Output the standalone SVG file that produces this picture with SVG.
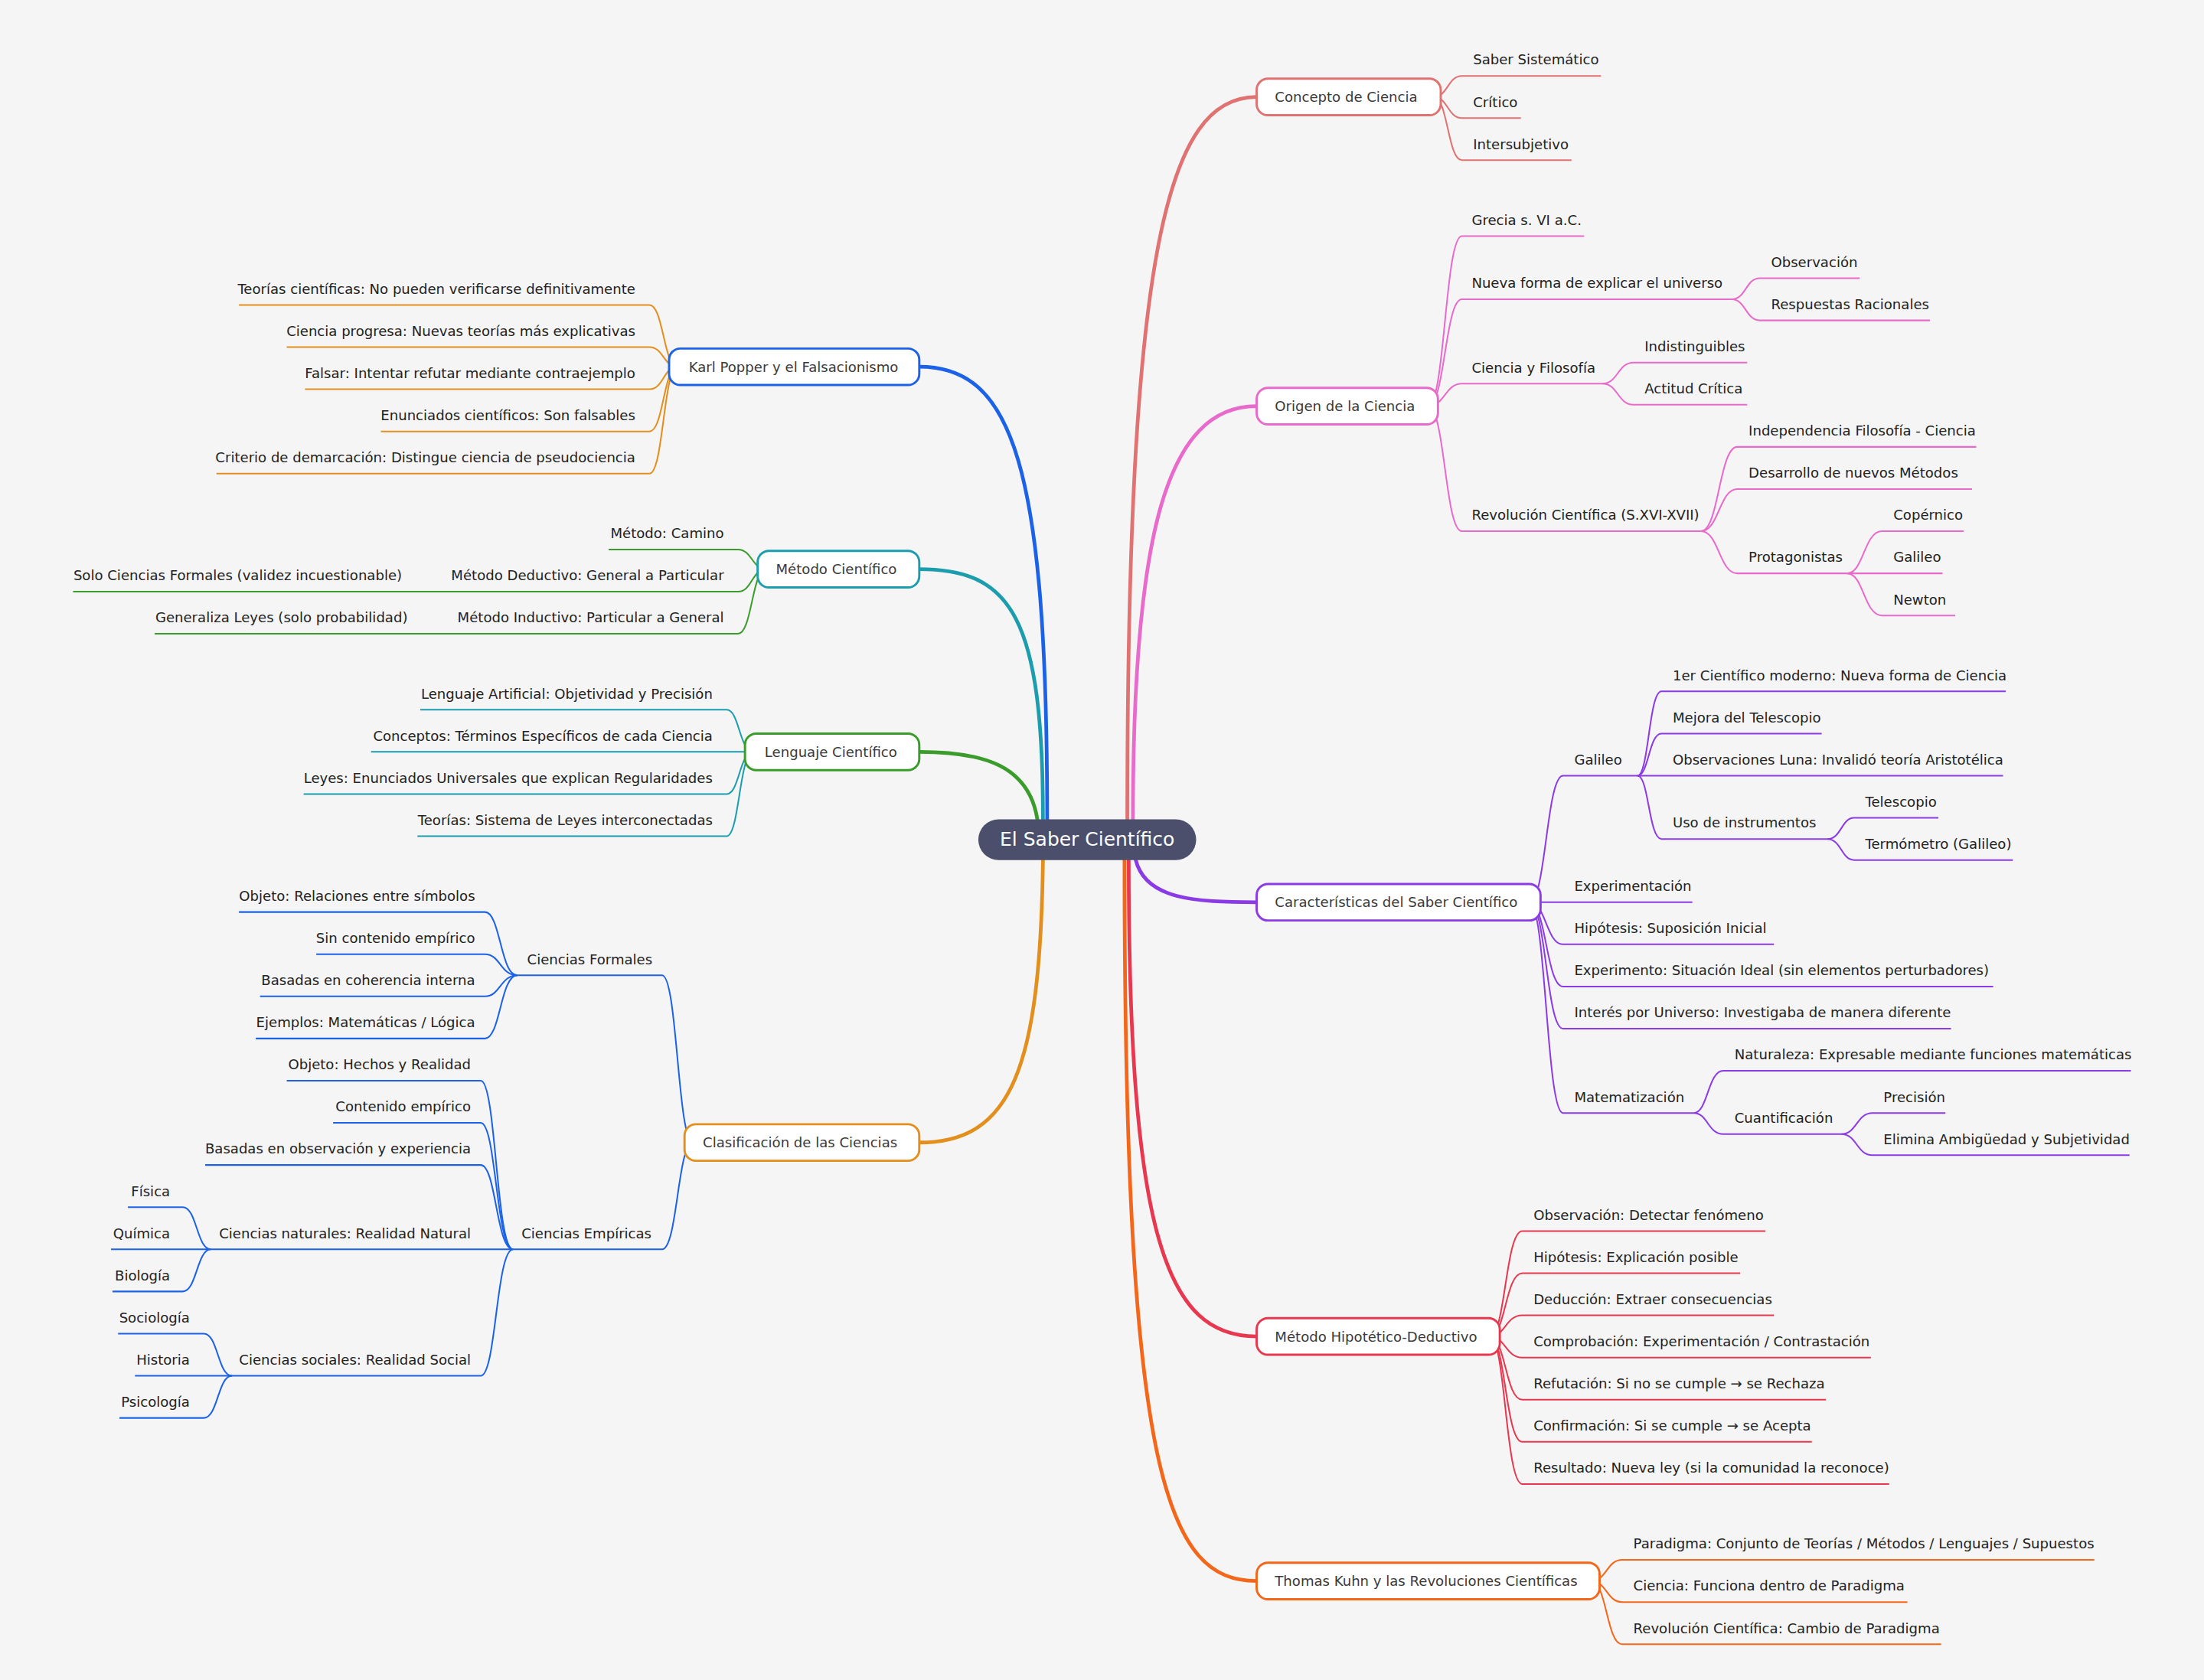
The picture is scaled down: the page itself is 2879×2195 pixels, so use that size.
<svg xmlns="http://www.w3.org/2000/svg" width="2879" height="2195" viewBox="0 0 2879 2195">
<style>
.m{fill:none;stroke-width:2.6;stroke-linecap:round}
.l{fill:none;stroke-width:1.1}
.t{font-family:"DejaVu Sans",sans-serif;font-size:9.85px;fill:#222}
.e{text-anchor:end}
.n{fill:#fff;stroke-width:1.6}
.nt{font-family:"DejaVu Sans",sans-serif;font-size:9.85px;fill:#3a3a3a}
</style>
<rect width="2879" height="2195" fill="#f5f5f5"/>
<g transform="scale(1.8361)">
<g id="connectors">
<path class="m" stroke="#E07272" d="M802,583 C802,180 830,69 894,69"/>
<path class="m" stroke="#E86ACB" d="M806,583 C806,380 830,289 894,289"/>
<path class="m" stroke="#8B3BE5" d="M808,612 C815,640 850,642 894,642"/>
<path class="m" stroke="#E8384F" d="M803,612 C803,880 830,951 894,951"/>
<path class="m" stroke="#F4671B" d="M800,612 C800,1050 830,1125 894,1125"/>
<path class="m" stroke="#1B62E8" d="M745,583 C745,330 720,261 654,261"/>
<path class="m" stroke="#1C9DAE" d="M742,583 C742,440 720,405 654,405"/>
<path class="m" stroke="#3A9C2B" d="M738,583 C732,545 700,535 654,535"/>
<path class="m" stroke="#E38F1E" d="M742,612 C740,760 720,813 654,813"/>
<g stroke="#E07272">
<path class="l" d="M1020,69 C1030,69 1030,54 1040,54 L1139,54"/>
<path class="l" d="M1020,69 C1030,69 1030,84 1040,84 L1082,84"/>
<path class="l" d="M1020,69 C1030,69 1030,114 1040,114 L1118,114"/>
</g>
<g stroke="#E86ACB">
<path class="l" d="M1016,289 C1028,289 1028,168 1040,168 L1127,168"/>
<path class="l" d="M1016,289 C1028,289 1028,213 1040,213 L1232,213"/>
<path class="l" d="M1016,289 C1028,289 1028,273 1040,273 L1140,273"/>
<path class="l" d="M1016,289 C1028,289 1028,378 1040,378 L1210,378"/>
<path class="l" d="M1232,213 C1242,213 1242,198 1252,198 L1323,198"/>
<path class="l" d="M1232,213 C1242,213 1242,228 1252,228 L1373,228"/>
<path class="l" d="M1140,273 C1151,273 1151,258 1162,258 L1243,258"/>
<path class="l" d="M1140,273 C1151,273 1151,288 1162,288 L1243,288"/>
<path class="l" d="M1210,378 C1223,378 1223,318 1236,318 L1406,318"/>
<path class="l" d="M1210,378 C1223,378 1223,348 1236,348 L1403,348"/>
<path class="l" d="M1210,378 C1223,378 1223,408 1236,408 L1314,408"/>
<path class="l" d="M1314,408 C1326,408 1326,378 1339,378 L1397,378"/>
<path class="l" d="M1314,408 C1326,408 1326,408 1339,408 L1382,408"/>
<path class="l" d="M1314,408 C1326,408 1326,438 1339,438 L1391,438"/>
</g>
<g stroke="#8B3BE5">
<path class="l" d="M1088,642 C1100,642 1100,552 1112,552 L1165,552"/>
<path class="l" d="M1088,642 C1100,642 1100,642 1112,642 L1204,642"/>
<path class="l" d="M1088,642 C1100,642 1100,672 1112,672 L1262,672"/>
<path class="l" d="M1088,642 C1100,642 1100,702 1112,702 L1418,702"/>
<path class="l" d="M1088,642 C1100,642 1100,732 1112,732 L1388,732"/>
<path class="l" d="M1088,642 C1100,642 1100,792 1112,792 L1205,792"/>
<path class="l" d="M1165,552 C1173,552 1173,492 1182,492 L1427,492"/>
<path class="l" d="M1165,552 C1173,552 1173,522 1182,522 L1296,522"/>
<path class="l" d="M1165,552 C1173,552 1173,552 1182,552 L1425,552"/>
<path class="l" d="M1165,552 C1173,552 1173,597 1182,597 L1300,597"/>
<path class="l" d="M1300,597 C1310,597 1310,582 1319,582 L1379,582"/>
<path class="l" d="M1300,597 C1310,597 1310,612 1319,612 L1432,612"/>
<path class="l" d="M1205,792 C1215,792 1215,762 1226,762 L1516,762"/>
<path class="l" d="M1205,792 C1215,792 1215,807 1226,807 L1310,807"/>
<path class="l" d="M1310,807 C1321,807 1321,792 1332,792 L1384,792"/>
<path class="l" d="M1310,807 C1321,807 1321,822 1332,822 L1515,822"/>
</g>
<g stroke="#E8384F">
<path class="l" d="M1060,951 C1071,951 1071,876 1083,876 L1256,876"/>
<path class="l" d="M1060,951 C1071,951 1071,906 1083,906 L1238,906"/>
<path class="l" d="M1060,951 C1071,951 1071,936 1083,936 L1262,936"/>
<path class="l" d="M1060,951 C1071,951 1071,966 1083,966 L1331,966"/>
<path class="l" d="M1060,951 C1071,951 1071,996 1083,996 L1299,996"/>
<path class="l" d="M1060,951 C1071,951 1071,1026 1083,1026 L1289,1026"/>
<path class="l" d="M1060,951 C1071,951 1071,1056 1083,1056 L1344,1056"/>
</g>
<g stroke="#F4671B">
<path class="l" d="M1132,1125 C1143,1125 1143,1110 1154,1110 L1490,1110"/>
<path class="l" d="M1132,1125 C1143,1125 1143,1140 1154,1140 L1357,1140"/>
<path class="l" d="M1132,1125 C1143,1125 1143,1170 1154,1170 L1381,1170"/>
</g>
<g stroke="#E38F1E">
<path class="l" d="M482,261 C472,261 472,217 462,217 L170,217"/>
<path class="l" d="M482,261 C472,261 472,247 462,247 L204,247"/>
<path class="l" d="M482,261 C472,261 472,277 462,277 L217,277"/>
<path class="l" d="M482,261 C472,261 472,307 462,307 L271,307"/>
<path class="l" d="M482,261 C472,261 472,337 462,337 L154,337"/>
</g>
<g stroke="#3A9C2B">
<path class="l" d="M545,405 C535,405 535,391 525,391 L433,391"/>
<path class="l" d="M545,405 C535,405 535,421 525,421 L52,421"/>
<path class="l" d="M545,405 C535,405 535,451 525,451 L110,451"/>
</g>
<g stroke="#1C9DAE">
<path class="l" d="M536,535 C526,535 526,505 517,505 L299,505"/>
<path class="l" d="M536,535 C526,535 526,535 517,535 L264,535"/>
<path class="l" d="M536,535 C526,535 526,565 517,565 L216,565"/>
<path class="l" d="M536,535 C526,535 526,595 517,595 L297,595"/>
</g>
<g stroke="#1B62E8">
<path class="l" d="M493,813 C482,813 482,694 471,694 L368,694"/>
<path class="l" d="M493,813 C482,813 482,889 471,889 L365,889"/>
<path class="l" d="M368,694 C356,694 356,649 345,649 L170,649"/>
<path class="l" d="M368,694 C356,694 356,679 345,679 L225,679"/>
<path class="l" d="M368,694 C356,694 356,709 345,709 L185,709"/>
<path class="l" d="M368,694 C356,694 356,739 345,739 L182,739"/>
<path class="l" d="M365,889 C353,889 353,769 342,769 L204,769"/>
<path class="l" d="M365,889 C353,889 353,799 342,799 L237,799"/>
<path class="l" d="M365,889 C353,889 353,829 342,829 L146,829"/>
<path class="l" d="M365,889 L150,889"/>
<path class="l" d="M365,889 C353,889 353,979 342,979 L165,979"/>
<path class="l" d="M150,889 C140,889 140,859 130,859 L91,859"/>
<path class="l" d="M150,889 L79,889"/>
<path class="l" d="M150,889 C140,889 140,919 130,919 L80,919"/>
<path class="l" d="M165,979 C155,979 155,949 145,949 L84,949"/>
<path class="l" d="M165,979 L96,979"/>
<path class="l" d="M165,979 C155,979 155,1009 145,1009 L85,1009"/>
</g>
</g>
<g id="root"><rect x="696" y="583" width="155" height="29" rx="14.5" fill="#4B4F6B"/><text x="773.5" y="602" text-anchor="middle" font-family="DejaVu Sans, sans-serif" font-size="13.6" fill="#fff">El Saber Científico</text></g>
<g id="concepto"><rect class="n" stroke="#E07272" x="894" y="56" width="131" height="26" rx="8"/><text class="nt" x="907" y="72.5">Concepto de Ciencia</text></g>
<g id="origen"><rect class="n" stroke="#E86ACB" x="894" y="276" width="129" height="26" rx="8"/><text class="nt" x="907" y="292.5">Origen de la Ciencia</text></g>
<g id="caracteristicas"><rect class="n" stroke="#8B3BE5" x="894" y="629" width="202" height="26" rx="8"/><text class="nt" x="907" y="645.5">Características del Saber Científico</text></g>
<g id="hipotetico"><rect class="n" stroke="#E8384F" x="894" y="938" width="173" height="26" rx="8"/><text class="nt" x="907" y="954.5">Método Hipotético-Deductivo</text></g>
<g id="kuhn"><rect class="n" stroke="#F4671B" x="894" y="1112" width="244" height="26" rx="8"/><text class="nt" x="907" y="1128.5">Thomas Kuhn y las Revoluciones Científicas</text></g>
<g id="popper"><rect class="n" stroke="#1B62E8" x="476" y="248" width="178" height="26" rx="8"/><text class="nt" x="490" y="264.5">Karl Popper y el Falsacionismo</text></g>
<g id="metodo"><rect class="n" stroke="#1C9DAE" x="539" y="392" width="115" height="26" rx="8"/><text class="nt" x="552" y="408.5">Método Científico</text></g>
<g id="lenguaje"><rect class="n" stroke="#3A9C2B" x="530" y="522" width="124" height="26" rx="8"/><text class="nt" x="544" y="538.5">Lenguaje Científico</text></g>
<g id="clasificacion"><rect class="n" stroke="#E38F1E" x="487" y="800" width="167" height="26" rx="8"/><text class="nt" x="500" y="816.5">Clasificación de las Ciencias</text></g>
<g id="leaves-right">
<text class="t" x="1048" y="46">Saber Sistemático</text>
<text class="t" x="1048" y="76">Crítico</text>
<text class="t" x="1048" y="106">Intersubjetivo</text>
<text class="t" x="1047" y="160">Grecia s. VI a.C.</text>
<text class="t" x="1047" y="205">Nueva forma de explicar el universo</text>
<text class="t" x="1260" y="190">Observación</text>
<text class="t" x="1260" y="220">Respuestas Racionales</text>
<text class="t" x="1047" y="265">Ciencia y Filosofía</text>
<text class="t" x="1170" y="250">Indistinguibles</text>
<text class="t" x="1170" y="280">Actitud Crítica</text>
<text class="t" x="1047" y="370">Revolución Científica (S.XVI-XVII)</text>
<text class="t" x="1244" y="310">Independencia Filosofía - Ciencia</text>
<text class="t" x="1244" y="340">Desarrollo de nuevos Métodos</text>
<text class="t" x="1244" y="400">Protagonistas</text>
<text class="t" x="1347" y="370">Copérnico</text>
<text class="t" x="1347" y="400">Galileo</text>
<text class="t" x="1347" y="430">Newton</text>
<text class="t" x="1120" y="544">Galileo</text>
<text class="t" x="1190" y="484">1er Científico moderno: Nueva forma de Ciencia</text>
<text class="t" x="1190" y="514">Mejora del Telescopio</text>
<text class="t" x="1190" y="544">Observaciones Luna: Invalidó teoría Aristotélica</text>
<text class="t" x="1190" y="589">Uso de instrumentos</text>
<text class="t" x="1327" y="574">Telescopio</text>
<text class="t" x="1327" y="604">Termómetro (Galileo)</text>
<text class="t" x="1120" y="634">Experimentación</text>
<text class="t" x="1120" y="664">Hipótesis: Suposición Inicial</text>
<text class="t" x="1120" y="694">Experimento: Situación Ideal (sin elementos perturbadores)</text>
<text class="t" x="1120" y="724">Interés por Universo: Investigaba de manera diferente</text>
<text class="t" x="1120" y="784">Matematización</text>
<text class="t" x="1234" y="754">Naturaleza: Expresable mediante funciones matemáticas</text>
<text class="t" x="1234" y="799">Cuantificación</text>
<text class="t" x="1340" y="784">Precisión</text>
<text class="t" x="1340" y="814">Elimina Ambigüedad y Subjetividad</text>
<text class="t" x="1091" y="868">Observación: Detectar fenómeno</text>
<text class="t" x="1091" y="898">Hipótesis: Explicación posible</text>
<text class="t" x="1091" y="928">Deducción: Extraer consecuencias</text>
<text class="t" x="1091" y="958">Comprobación: Experimentación / Contrastación</text>
<text class="t" x="1091" y="988">Refutación: Si no se cumple → se Rechaza</text>
<text class="t" x="1091" y="1018">Confirmación: Si se cumple → se Acepta</text>
<text class="t" x="1091" y="1048">Resultado: Nueva ley (si la comunidad la reconoce)</text>
<text class="t" x="1162" y="1102">Paradigma: Conjunto de Teorías / Métodos / Lenguajes / Supuestos</text>
<text class="t" x="1162" y="1132">Ciencia: Funciona dentro de Paradigma</text>
<text class="t" x="1162" y="1162">Revolución Científica: Cambio de Paradigma</text>
</g>
<g id="leaves-left">
<text class="t e" x="452" y="209">Teorías científicas: No pueden verificarse definitivamente</text>
<text class="t e" x="452" y="239">Ciencia progresa: Nuevas teorías más explicativas</text>
<text class="t e" x="452" y="269">Falsar: Intentar refutar mediante contraejemplo</text>
<text class="t e" x="452" y="299">Enunciados científicos: Son falsables</text>
<text class="t e" x="452" y="329">Criterio de demarcación: Distingue ciencia de pseudociencia</text>
<text class="t e" x="515" y="383">Método: Camino</text>
<text class="t e" x="515" y="413">Método Deductivo: General a Particular</text>
<text class="t e" x="286" y="413">Solo Ciencias Formales (validez incuestionable)</text>
<text class="t e" x="515" y="443">Método Inductivo: Particular a General</text>
<text class="t e" x="290" y="443">Generaliza Leyes (solo probabilidad)</text>
<text class="t e" x="507" y="497">Lenguaje Artificial: Objetividad y Precisión</text>
<text class="t e" x="507" y="527">Conceptos: Términos Específicos de cada Ciencia</text>
<text class="t e" x="507" y="557">Leyes: Enunciados Universales que explican Regularidades</text>
<text class="t e" x="507" y="587">Teorías: Sistema de Leyes interconectadas</text>
<text class="t" x="375" y="686">Ciencias Formales</text>
<text class="t e" x="338" y="641">Objeto: Relaciones entre símbolos</text>
<text class="t e" x="338" y="671">Sin contenido empírico</text>
<text class="t e" x="338" y="701">Basadas en coherencia interna</text>
<text class="t e" x="338" y="731">Ejemplos: Matemáticas / Lógica</text>
<text class="t" x="371" y="881">Ciencias Empíricas</text>
<text class="t e" x="335" y="761">Objeto: Hechos y Realidad</text>
<text class="t e" x="335" y="791">Contenido empírico</text>
<text class="t e" x="335" y="821">Basadas en observación y experiencia</text>
<text class="t e" x="335" y="881">Ciencias naturales: Realidad Natural</text>
<text class="t e" x="121" y="851">Física</text>
<text class="t e" x="121" y="881">Química</text>
<text class="t e" x="121" y="911">Biología</text>
<text class="t e" x="335" y="971">Ciencias sociales: Realidad Social</text>
<text class="t e" x="135" y="941">Sociología</text>
<text class="t e" x="135" y="971">Historia</text>
<text class="t e" x="135" y="1001">Psicología</text>
</g>
</g>
</svg>
